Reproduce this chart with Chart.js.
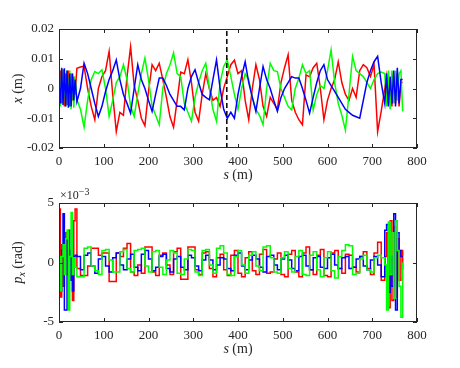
<!DOCTYPE html>
<html>
<head>
<meta charset="utf-8">
<script src="https://cdn.jsdelivr.net/npm/chart.js@4.4.1/dist/chart.umd.min.js"></script>
<style>
  body { margin: 0; background: #fff; }
  #wrap { position: relative; width: 460px; height: 368px; }
  canvas { position: absolute; left: 0; }
</style>
</head>
<body>
<div id="wrap">
  <canvas id="topChart" width="460" height="184" style="top:0"></canvas>
  <canvas id="botChart" width="460" height="184" style="top:184px"></canvas>
</div>
<script>
// positions along the ring (m)
const sPos = [0, 3, 6, 9, 12, 15, 18, 21, 24, 27, 30, 33, 36, 40,
  48, 56, 64, 72, 80, 88, 96, 104, 112, 120, 128, 136, 144, 152, 160, 168,
  176, 184, 192, 200, 208, 216, 224, 232, 240, 248, 256, 264, 272, 280, 288, 296,
  304, 312, 320, 328, 336, 344, 352, 360, 368, 376, 384, 392, 400, 408, 416, 424,
  432, 440, 448, 456, 464, 472, 480, 488, 496, 504, 512, 520, 528, 536, 544, 552,
  560, 568, 576, 584, 592, 600, 608, 616, 624, 632, 640, 648, 656, 664, 672, 680,
  688, 696, 704, 712, 720, 728,
  732, 736, 740, 744, 748, 752, 756, 760, 764, 768];

// x orbit, in mm
const xRed = [-7.2, 6, -5, 6.5, -6, 5, -5.5, 6, -6, 5, -4, 4, -2, 6.8,
  7.2, 7.5, 0, -6, -10.5, 0, 4, 6,
  12.5, -2, -14.5, -8, -9, 4, 14, 1,
  -4, -10, -12.5, -1, 8, 6, 8.5, 3,
  -3, -9.5, -13, -4, 5.5, 5, 9.7, 2,
  -8, -11, -2, 5, 0, -4, -3, -6,
  0, 4, 8, 9.5, 5, 6, -4, -10.5,
  0, 8, 3, -6, -9.4, -3, -5, -7,
  2, 7, 11.3, -4, -8, -10.5, -12.2, 4.6,
  4, 7, 8.5, 0, -10.5, -4, 0, 3,
  9, 2, -2, -4, 0, -3, 6, 8,
  7, 4, 8, -14.5, -7.7, 0,
  4, -5, 3, -6, 4, -5, 5, -6, 2, 2];
const xGreen = [4, -6, 6.5, -5, 5, -6, 6, -5, 6, -7, 5, -6.5, 4, -3.8,
  -7, -13, -4, 3, 5.7, 5, 6.3, 0,
  -9.4, -4, 2, 4, 8, 3, -6, -9.4,
  -2, 5, 10.2, 3, -6, -9, -12.2, 0,
  5, 8, 12, 5, 4, -5, -8, -11,
  -3, 2, 6, 8.5, 0, -7, -11, 2,
  7.4, 9.6, 4, -2, -7, 0, 5, 3,
  -3, -7, -9, -12.2, 0, 8.5, 6, 5.7,
  0, -3, -6, -7.2, 0, 3.5, 8, 5,
  6, -7.2, -2, 1, 0, 6, 13, 2,
  -5, -9, -14, -2, 10.8, 6, 5, 4,
  2, 0, 3, 5, 5.5, 5,
  -6, 6, -7, 6, -5, 6, -4, 5, 6, -7.7];
const xBlue = [2, -5, 7, -5.5, 6.8, -6, 6, -6.5, 5, -6, 5, -4, 3, -4.4,
  0, 8.5, 5, 0, -5, -9.4, -6, -1,
  3, 6, 9.6, 3, -2, -5, -8.3, 0,
  8, 3, 0, -4, -7.7, -2, 3.5, 3.5,
  1, -2, -4, -6, -6, -7.2, 0, 4,
  6.3, 2, -2, -3, -3.8, 3, 9.6, 0,
  -7, -10, -8, -10, -2, 4, 9, 2,
  -3, -7.7, 0, 7.4, 3, 0, -4, -7.7,
  -3, 0, 2, 4, 3.5, 3.5, 0, -4,
  -8.3, -3, 2, 6, 8, 3, 1, -1,
  -3, -5, -7, -8, -9, -9.5, -10, -4,
  2, 6, 9, 10.8, 2, -5,
  5, -6, 4, -5, 6, -6, 7, -5, 3, 3];

// px, in units of 1e-3 rad
const pRed = [4.5, -2.9, 1.5, -2, 0.5, 2.5, -1, 1, -1.5, 0.5, -3.2, 3.5, 4.5, -0.5,
  -1.1, -1.1, -0.3, 1.2, 1.2, 0.6, 0.8, 0.8,
  -1.6, -1.6, 0.8, 0.5, 1.2, 1.6, -0.8, -1.1,
  -0.2, -0.9, 1.3, 1.3, -0.8, -1.1, 0.6, 0.8,
  -0.2, -1.0, 0.9, 1.2, -1.4, -1.4, 1.3, 1.3,
  -0.6, -1.0, 0.8, 0.9, -0.5, -1.2, 0.4, 0.7,
  -0.6, -1.1, 0.6, 1.0, -0.9, -1.2, 0.4, 0.9,
  -0.7, -1.0, 0.7, 1.1, -0.9, -0.8, 0.3, 0.8,
  -1.0, -1.2, 0.7, 1.0, -0.8, -1.2, 0.8, 1.3,
  -0.6, -1.0, 0.6, 1.1, -1.1, -1.2, 0.8, 1.0,
  -0.5, -0.9, 0.7, 0.6, -0.4, -0.8, 0.5, 0.9,
  -0.5, -1.0, 0.8, 1.7, -1.5, 0.5,
  2.5, -3.8, 3.5, -3.2, 3.0, -2.9, 2.0, -1.5, 1.0, -0.6];
const pBlue = [-0.5, -2.4, 1.0, 4.1, -4.0, -4.0, 2.0, 2.7, -1.5, 1.0, -2.4, 0.5, 0.6, 0.5,
  -0.6, 0.6, 0.8, -0.3, -0.9, 0.3, 0.5, -0.3,
  -0.8, 0.4, 0.8, -0.2, -0.6, 0.3, 0.7, -0.4,
  -0.7, 0.7, 1.0, 0.3, -0.7, -0.4, 0.5, 0.7,
  -0.5, -0.8, 0.3, 0.5, -0.4, -0.6, 0.6, 0.4,
  -0.3, -0.7, 0.2, 0.6, 0.2, -0.6, -0.2, 0.4,
  0.3, -0.5, -0.7, 0.6, 0.8, -0.3, -0.6, 0.2,
  0.6, 0.3, -0.4, -0.8, 0.5, 0.6, -0.2, -0.6,
  0.3, 0.6, 0.2, -0.5, -0.7, 0.5, 0.6, -0.3,
  -0.6, 0.4, 0.5, -0.4, -0.5, 0.4, 0.7, -0.2,
  -0.5, 0.4, 0.5, -0.5, -0.4, 0.3, 0.5, -0.3,
  -0.6, 0.2, 0.5, -0.2, -1.2, 2.7,
  3.2, -2.5, 0.5, -2, 4.1, -4.0, 2.5, 1.0, 0.5, 0.5];
const pGreen = [0.5, -2.4, 0.5, 1.5, -1.0, 2.0, 2.7, -4.0, 0.5, 4.2, -1.0, 0.4, -0.4, -1.2,
  -1.2, 1.2, 1.3, -0.3, -0.7, -1.0, 1.0, 1.1,
  0.2, -0.8, -0.8, 0.9, 1.1, -0.5, -0.8, 1.0,
  1.1, 1.2, -0.3, -0.8, 0.9, 1.0, -0.4, -1.0,
  0.2, 1.0, 0.8, -0.9, -1.0, 0.3, 1.1, 1.0,
  -0.8, -1.1, 1.0, 1.1, -0.2, -0.9, 1.2, 1.4,
  0.8, -1.0, -1.1, 0.5, 1.0, -0.2, -0.9, 0.6,
  0.9, -0.3, -0.7, 1.3, 1.4, 0.4, -0.8, -0.9,
  0.4, 0.9, -0.5, -0.8, 0.5, 1.0, -1.0, -1.1,
  0.6, 0.9, -0.6, -1.2, 0.4, 0.9, -0.7, -1.3,
  0.5, 1.0, 1.5, 1.4, -1.0, -0.9, 0.3, 0.6,
  -0.6, -0.8, 0.4, 0.6, 0.4, -0.2,
  -4.0, 3.4, -1.0, 2.5, -3.0, 3.5, 1.0, -2.0, -4.6, 0];

const dashS = 375;
const sTicks = [0, 100, 200, 300, 400, 500, 600, 700, 800];
const xTickVals = [-20, -10, 0, 10, 20];
const xTickLabels = ['-0.02', '-0.01', '0', '0.01', '0.02'];
const pTickVals = [-5, 0, 5];
const pTickLabels = ['-5', '0', '5'];

const FONT = "'Liberation Serif', 'Times New Roman', serif";
const INK = '#262626';

const pts = (ys) => sPos.map((s, i) => ({ x: s, y: ys[i] }));

function series(label, ys, color, stepped) {
    return {
        label: label,
        data: pts(ys),
        borderColor: color,
        backgroundColor: color,
        borderWidth: 1.5,
        pointRadius: 0,
        tension: 0,
        stepped: stepped,
        fill: false
    };
}

// draws segments like [{t:'s', it:true}, {t:' (m)'}] centred at 0,0
function drawMixed(ctx, parts, size) {
    const fontOf = (p) => (p.it ? 'italic ' : '') + (p.sub ? size - 4 : size) + 'px ' + FONT;
    let total = 0;
    parts.forEach(p => { ctx.font = fontOf(p); total += ctx.measureText(p.t).width; });
    let x = -total / 2;
    ctx.textBaseline = 'middle';
    ctx.textAlign = 'left';
    parts.forEach(p => {
        ctx.font = fontOf(p);
        ctx.fillText(p.t, x, p.sub ? 4 : 0);
        x += ctx.measureText(p.t).width;
    });
}

const axesBox = {
    id: 'axesBox',
    afterDraw(chart, args, opts) {
        const { ctx, chartArea: a, scales } = chart;
        ctx.save();
        ctx.strokeStyle = INK;
        ctx.lineWidth = 1;
        ctx.beginPath();
        scales.x.ticks.forEach(t => {
            const px = Math.round(scales.x.getPixelForValue(t.value)) + 0.5;
            ctx.moveTo(px, a.bottom); ctx.lineTo(px, a.bottom - 4);
            ctx.moveTo(px, a.top); ctx.lineTo(px, a.top + 4);
        });
        scales.y.ticks.forEach(t => {
            const py = Math.round(scales.y.getPixelForValue(t.value)) + 0.5;
            ctx.moveTo(a.left, py); ctx.lineTo(a.left + 4, py);
            ctx.moveTo(a.right, py); ctx.lineTo(a.right - 4, py);
        });
        ctx.stroke();
        ctx.strokeRect(Math.round(a.left) + 0.5, Math.round(a.top) + 0.5,
            Math.round(a.width) - 1, Math.round(a.height) - 1);

        ctx.fillStyle = INK;
        ctx.save();
        ctx.translate((a.left + a.right) / 2, a.bottom + 27);
        drawMixed(ctx, opts.xTitle, 14);
        ctx.restore();
        ctx.save();
        ctx.translate(18, (a.top + a.bottom) / 2);
        ctx.rotate(-Math.PI / 2);
        drawMixed(ctx, opts.yTitle, 14);
        ctx.restore();

        if (opts.exponent) {
            ctx.textAlign = 'left';
            ctx.textBaseline = 'middle';
            ctx.font = '12px ' + FONT;
            ctx.fillText('\u00d710', a.left + 1, a.top - 7);
            const w = ctx.measureText('\u00d710').width;
            ctx.font = '10px ' + FONT;
            ctx.fillText('\u22123', a.left + 1 + w, a.top - 11);
        }
        ctx.restore();
    }
};

window.CreateAxesChart = (chartId, datasets, cfg) => {
    const ctx = document.getElementById(chartId);
    new Chart(ctx, {
        type: 'line',
        data: { datasets: datasets },
        options: {
            responsive: false,
            animation: false,
            devicePixelRatio: 1,
            layout: { padding: { left: 0, top: cfg.padTop, right: 43, bottom: 0 } },
            plugins: {
                legend: { display: false },
                tooltip: { enabled: false },
                axesBox: { xTitle: cfg.xTitle, yTitle: cfg.yTitle, exponent: cfg.exponent }
            },
            scales: {
                x: {
                    type: 'linear', min: 0, max: 800,
                    afterBuildTicks: s => { s.ticks = sTicks.map(v => ({ value: v })); },
                    ticks: { font: { family: FONT, size: 13 }, color: INK, padding: 6, maxRotation: 0, autoSkip: false },
                    grid: { display: false, drawTicks: false },
                    border: { display: false },
                    afterFit: s => { s.height = cfg.xAxisH; }
                },
                y: {
                    type: 'linear', min: cfg.yVals[0], max: cfg.yVals[cfg.yVals.length - 1],
                    afterBuildTicks: s => { s.ticks = cfg.yVals.map(v => ({ value: v })); },
                    ticks: {
                        font: { family: FONT, size: 13 }, color: INK, padding: 5,
                        callback: v => cfg.yLabels[cfg.yVals.indexOf(v)]
                    },
                    grid: { display: false, drawTicks: false },
                    border: { display: false },
                    afterFit: s => { s.width = 59; }
                }
            }
        },
        plugins: [axesBox]
    });
};

CreateAxesChart('topChart', [
    {
        label: 'marker', data: [{ x: dashS, y: xTickVals[0] }, { x: dashS, y: xTickVals[xTickVals.length - 1] }],
        borderColor: '#000', borderWidth: 1.5, borderDash: [5, 3], pointRadius: 0
    },
    series('blue', xBlue, '#0000ff', false),
    series('green', xGreen, '#00ff00', false),
    series('red', xRed, '#ff0000', false)
], {
    padTop: 29, xAxisH: 36,
    yVals: xTickVals, yLabels: xTickLabels,
    xTitle: [{ t: 's', it: true }, { t: ' (m)' }],
    yTitle: [{ t: 'x', it: true }, { t: ' (m)' }],
    exponent: false
});

CreateAxesChart('botChart', [
    series('green', pGreen, '#00ff00', true),
    series('blue', pBlue, '#0000ff', true),
    series('red', pRed, '#ff0000', true)
], {
    padTop: 19, xAxisH: 46,
    yVals: pTickVals, yLabels: pTickLabels,
    xTitle: [{ t: 's', it: true }, { t: ' (m)' }],
    yTitle: [{ t: 'p', it: true }, { t: 'x', it: true, sub: true }, { t: ' (rad)' }],
    exponent: true
});
</script>
</body>
</html>
